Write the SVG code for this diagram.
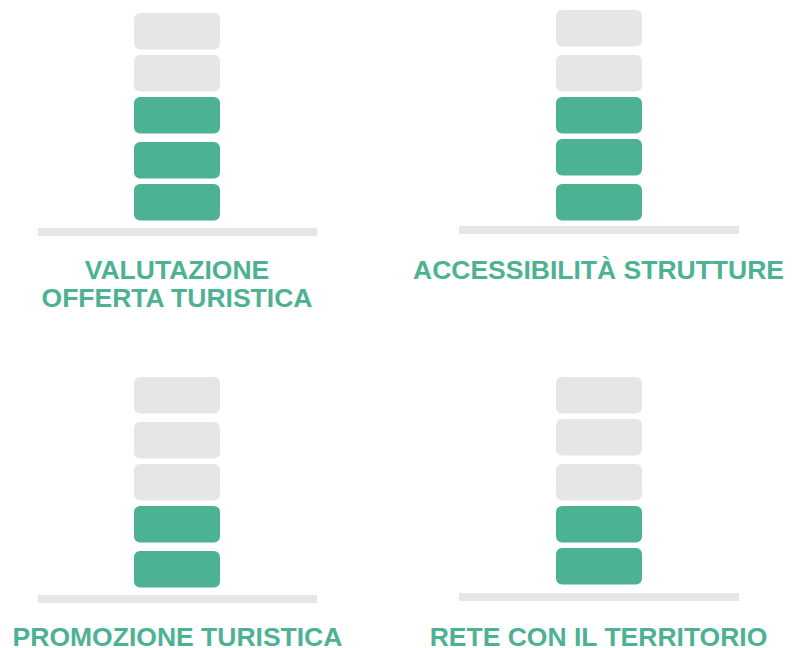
<svg xmlns="http://www.w3.org/2000/svg" width="803" height="648" viewBox="0 0 803 648">
<style>
.g{fill:#E6E6E6}
.a{fill:#4DB293}
.b{fill:#E6E6E6}
.t{font-family:"Liberation Sans",Arial,sans-serif;font-weight:bold;font-size:26.5px;fill:#4DB293;text-anchor:middle}
</style>
<rect width="803" height="648" fill="#FFFFFF"/>
<g id="valutazione">
<rect class="g" x="134" y="13" width="86" height="36.5" rx="6"/>
<rect class="g" x="134" y="55" width="86" height="36.5" rx="6"/>
<rect class="a" x="134" y="97" width="86" height="36.5" rx="6"/>
<rect class="a" x="134" y="142" width="86" height="36.5" rx="6"/>
<rect class="a" x="134" y="184" width="86" height="36.5" rx="6"/>
<rect class="b" x="38" y="228" width="279" height="8"/>
<text class="t" x="177" y="279">VALUTAZIONE</text>
<text class="t" x="177" y="307">OFFERTA TURISTICA</text>
</g>
<g id="accessibilita">
<rect class="g" x="556" y="10" width="86" height="36.5" rx="6"/>
<rect class="g" x="556" y="55" width="86" height="36.5" rx="6"/>
<rect class="a" x="556" y="97" width="86" height="36.5" rx="6"/>
<rect class="a" x="556" y="139" width="86" height="36.5" rx="6"/>
<rect class="a" x="556" y="184" width="86" height="36.5" rx="6"/>
<rect class="b" x="459" y="226" width="280" height="8"/>
<text class="t" x="598.5" y="279">ACCESSIBILITÀ STRUTTURE</text>
</g>
<g id="promozione">
<rect class="g" x="134" y="377" width="86" height="36.5" rx="6"/>
<rect class="g" x="134" y="422" width="86" height="36.5" rx="6"/>
<rect class="g" x="134" y="464" width="86" height="36.5" rx="6"/>
<rect class="a" x="134" y="506" width="86" height="36.5" rx="6"/>
<rect class="a" x="134" y="551" width="86" height="36.5" rx="6"/>
<rect class="b" x="38" y="595" width="279" height="8"/>
<text class="t" x="177.5" y="645.5">PROMOZIONE TURISTICA</text>
</g>
<g id="rete">
<rect class="g" x="556" y="377" width="86" height="36.5" rx="6"/>
<rect class="g" x="556" y="419" width="86" height="36.5" rx="6"/>
<rect class="g" x="556" y="464" width="86" height="36.5" rx="6"/>
<rect class="a" x="556" y="506" width="86" height="36.5" rx="6"/>
<rect class="a" x="556" y="548" width="86" height="36.5" rx="6"/>
<rect class="b" x="459" y="593" width="280" height="8"/>
<text class="t" x="598.5" y="645.5">RETE CON IL TERRITORIO</text>
</g>
<g id="connectors"/>
</svg>
